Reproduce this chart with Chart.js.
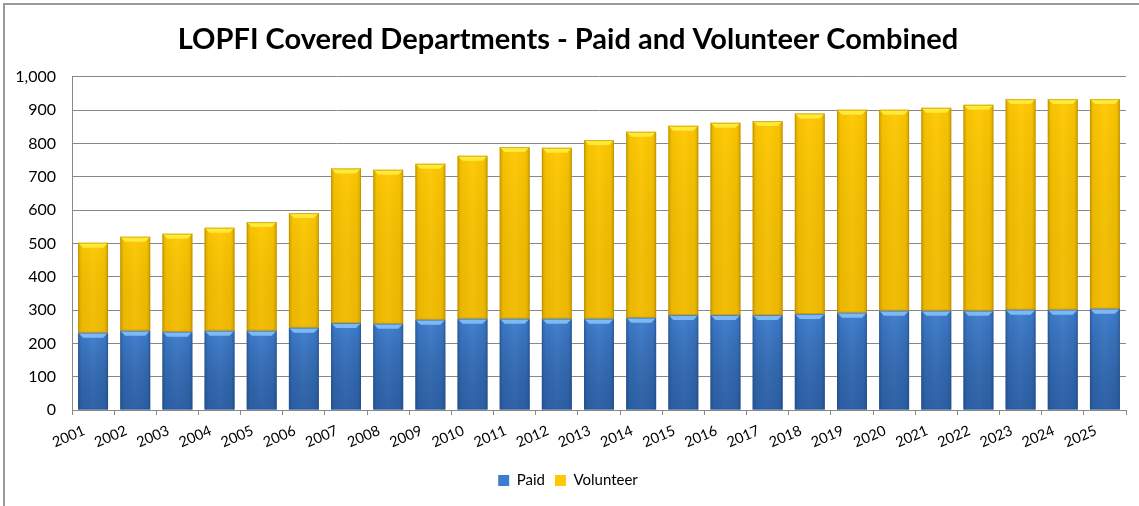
<!DOCTYPE html>
<html>
<head>
<meta charset="utf-8">
<script src="https://cdn.jsdelivr.net/npm/chart.js@4.4.1/dist/chart.umd.min.js"></script>
<style>
  html, body { margin: 0; padding: 0; background: #fff; }
  #wrap { position: relative; width: 1139px; height: 506px; overflow: hidden; }
  #frame { position: absolute; left: 3px; top: 3px; width: 1300px; height: 700px;
           border-left: 2px solid #9a9a9a; border-top: 2px solid #9a9a9a; }
  canvas { position: absolute; left: 0; top: 0; }
</style>
</head>
<body>
<div id="wrap">
  <div id="frame"></div>
  <canvas id="chart" width="1139" height="506"></canvas>
</div>
<script>
const years = ["2001", "2002", "2003", "2004", "2005", "2006", "2007", "2008", "2009",
  "2010", "2011", "2012", "2013", "2014", "2015", "2016", "2017", "2018", "2019",
  "2020", "2021", "2022", "2023", "2024", "2025"];

const paid = [232, 238, 235, 238, 238, 247, 261, 259, 271, 274, 274, 274, 274,
  277, 285, 285, 285, 288, 292, 298, 298, 298, 301, 301, 304];
const volunteer = [270, 282, 294, 309, 326, 344, 464, 462, 468, 489, 515, 513, 536,
  558, 568, 577, 582, 602, 609, 603, 609, 618, 632, 632, 629];

const yTicks = [0, 100, 200, 300, 400, 500, 600, 700, 800, 900, 1000];

const FONT = "Lato";

// shading on top of each bar so they look like the excel bevel
const bevelPlugin = {
  id: "bevel",
  afterDatasetsDraw(chart) {
    const ctx = chart.ctx;
    chart.data.datasets.forEach((ds, di) => {
      const meta = chart.getDatasetMeta(di);
      meta.data.forEach(bar => {
        const left = bar.x - bar.width / 2;
        const right = bar.x + bar.width / 2;
        const top = Math.min(bar.y, bar.base);
        const bottom = Math.max(bar.y, bar.base);
        const w = right - left;

        ctx.save();
        // side shading
        let g = ctx.createLinearGradient(left, 0, right, 0);
        g.addColorStop(0, "rgba(0,0,0,0.18)");
        g.addColorStop(0.12, "rgba(0,0,0,0.03)");
        g.addColorStop(0.5, "rgba(255,255,255,0.04)");
        g.addColorStop(0.88, "rgba(0,0,0,0.03)");
        g.addColorStop(1, "rgba(0,0,0,0.18)");
        ctx.fillStyle = g;
        ctx.fillRect(left, top, w, bottom - top);

        // darker toward the bottom
        g = ctx.createLinearGradient(0, top, 0, bottom);
        g.addColorStop(0, "rgba(0,0,0,0)");
        g.addColorStop(1, ds.shade);
        ctx.fillStyle = g;
        ctx.fillRect(left, top, w, bottom - top);

        // top bevel
        const b = 5;
        ctx.beginPath();
        ctx.moveTo(left, top);
        ctx.lineTo(right, top);
        ctx.lineTo(right - b, top + b);
        ctx.lineTo(left + b, top + b);
        ctx.closePath();
        ctx.fillStyle = ds.bevel;
        ctx.fill();

        ctx.strokeStyle = ds.edge;
        ctx.lineWidth = 1;
        ctx.strokeRect(left + 0.5, top + 0.5, w - 1, bottom - top - 1);
        ctx.restore();
      });
    });
  }
};

new Chart(document.getElementById("chart"), {
  type: "bar",
  data: {
    labels: years,
    datasets: [
      {
        label: "Paid",
        data: paid,
        backgroundColor: "#3d7dcf",
        shade: "rgba(10,40,90,0.35)",
        bevel: "#7db9f2",
        edge: "rgba(40,80,140,0.5)",
        borderWidth: 0,
        barPercentage: 0.71,
        categoryPercentage: 1,
      },
      {
        label: "Volunteer",
        data: volunteer,
        backgroundColor: "#ffc800",
        shade: "rgba(150,100,0,0.12)",
        bevel: "#ffe93a",
        edge: "rgba(190,140,0,0.6)",
        borderWidth: 0,
        barPercentage: 0.71,
        categoryPercentage: 1,
      },
    ],
  },
  options: {
    responsive: false,
    animation: false,
    layout: {
      padding: { left: 10, right: 13, top: 16, bottom: 8 },
    },
    plugins: {
      title: {
        display: true,
        text: "LOPFI Covered Departments - Paid and Volunteer Combined",
        color: "#000",
        font: { family: FONT, size: 29, weight: "bold" },
        padding: { top: 6, bottom: 20 },
      },
      legend: {
        position: "bottom",
        labels: {
          color: "#000",
          font: { family: FONT, size: 15 },
          boxWidth: 11,
          boxHeight: 11,
          padding: 10,
        },
      },
      tooltip: { enabled: false },
    },
    scales: {
      x: {
        stacked: true,
        grid: {
          offset: true,
          drawOnChartArea: false,
          color: "#888",
          tickLength: 5,
        },
        border: { color: "#888" },
        ticks: {
          color: "#000",
          font: { family: FONT, size: 14.5 },
          autoSkip: false,
          minRotation: 23,
          maxRotation: 23,
          labelOffset: -9,
          padding: 7,
        },
        afterFit(scale) {
          scale.height = 53;
        },
      },
      y: {
        stacked: true,
        min: 0,
        max: 1000,
        afterBuildTicks(scale) {
          scale.ticks = yTicks.map(v => ({ value: v }));
        },
        grid: {
          color: "#888",
          drawTicks: false,
        },
        border: { color: "#888" },
        ticks: {
          color: "#000",
          font: { family: FONT, size: 16 },
          padding: 16,
          callback: v => v.toLocaleString("en-US"),
        },
        afterFit(scale) {
          scale.width = 62;
        },
      },
    },
  },
  plugins: [bevelPlugin],
});
</script>
</body>
</html>
